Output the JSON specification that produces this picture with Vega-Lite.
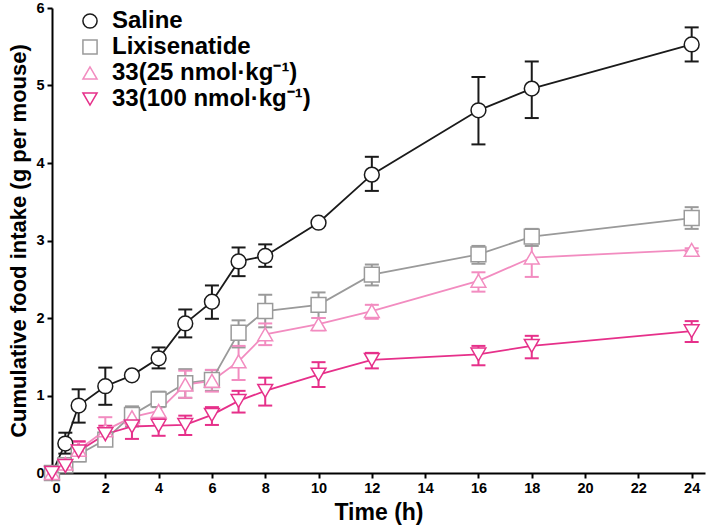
{
  "$schema": "https://vega.github.io/schema/vega-lite/v6.json",
  "width": 653,
  "height": 465,
  "autosize": {"type": "none"},
  "padding": {"left": 52, "top": 8, "right": 4, "bottom": 57},
  "background": "white",
  "config": {
    "view": {"stroke": null},
    "font": "Liberation Sans",
    "axis": {"grid": false, "domainColor": "black", "domainWidth": 2, "tickColor": "black", "tickWidth": 2, "tickSize": 5, "labelFontSize": 14.5, "labelFontWeight": "bold", "labelColor": "black", "titleFontWeight": "bold", "titleColor": "black"},
    "legend": {"labelLimit": 400, "symbolOpacity": 1}
  },
  "data": {"values": [
    {"g": "Saline", "t": 0, "m": 0, "lo": 0, "hi": 0},
    {"g": "Saline", "t": 0.5, "m": 0.38, "lo": 0.25, "hi": 0.52},
    {"g": "Saline", "t": 1, "m": 0.87, "lo": 0.65, "hi": 1.08},
    {"g": "Saline", "t": 2, "m": 1.12, "lo": 0.88, "hi": 1.36},
    {"g": "Saline", "t": 3, "m": 1.26, "lo": 1.24, "hi": 1.28},
    {"g": "Saline", "t": 4, "m": 1.48, "lo": 1.35, "hi": 1.62},
    {"g": "Saline", "t": 5, "m": 1.93, "lo": 1.75, "hi": 2.11},
    {"g": "Saline", "t": 6, "m": 2.21, "lo": 1.99, "hi": 2.42},
    {"g": "Saline", "t": 7, "m": 2.73, "lo": 2.54, "hi": 2.91},
    {"g": "Saline", "t": 8, "m": 2.8, "lo": 2.66, "hi": 2.95},
    {"g": "Saline", "t": 10, "m": 3.23, "lo": 3.21, "hi": 3.25},
    {"g": "Saline", "t": 12, "m": 3.85, "lo": 3.64, "hi": 4.08},
    {"g": "Saline", "t": 16, "m": 4.68, "lo": 4.24, "hi": 5.11},
    {"g": "Saline", "t": 18, "m": 4.96, "lo": 4.58, "hi": 5.31},
    {"g": "Saline", "t": 24, "m": 5.53, "lo": 5.31, "hi": 5.75},
    {"g": "Lixisenatide", "t": 0, "m": 0, "lo": 0, "hi": 0},
    {"g": "Lixisenatide", "t": 0.5, "m": 0.1, "lo": 0.05, "hi": 0.15},
    {"g": "Lixisenatide", "t": 1, "m": 0.24, "lo": 0.15, "hi": 0.32},
    {"g": "Lixisenatide", "t": 2, "m": 0.43, "lo": 0.35, "hi": 0.52},
    {"g": "Lixisenatide", "t": 3, "m": 0.75, "lo": 0.6, "hi": 0.86},
    {"g": "Lixisenatide", "t": 4, "m": 0.95, "lo": 0.85, "hi": 1.05},
    {"g": "Lixisenatide", "t": 5, "m": 1.16, "lo": 0.97, "hi": 1.34},
    {"g": "Lixisenatide", "t": 6, "m": 1.2, "lo": 1.06, "hi": 1.33},
    {"g": "Lixisenatide", "t": 7, "m": 1.81, "lo": 1.62, "hi": 1.97},
    {"g": "Lixisenatide", "t": 8, "m": 2.09, "lo": 1.88, "hi": 2.3},
    {"g": "Lixisenatide", "t": 10, "m": 2.17, "lo": 2.0, "hi": 2.33},
    {"g": "Lixisenatide", "t": 12, "m": 2.56, "lo": 2.42, "hi": 2.69},
    {"g": "Lixisenatide", "t": 16, "m": 2.82, "lo": 2.7, "hi": 2.93},
    {"g": "Lixisenatide", "t": 18, "m": 3.05, "lo": 2.93, "hi": 3.15},
    {"g": "Lixisenatide", "t": 24, "m": 3.29, "lo": 3.15, "hi": 3.43},
    {"g": "33(25 nmol·kg⁻¹)", "t": 0, "m": 0, "lo": 0, "hi": 0},
    {"g": "33(25 nmol·kg⁻¹)", "t": 0.5, "m": 0.12, "lo": 0.07, "hi": 0.17},
    {"g": "33(25 nmol·kg⁻¹)", "t": 1, "m": 0.3, "lo": 0.2, "hi": 0.4},
    {"g": "33(25 nmol·kg⁻¹)", "t": 2, "m": 0.55, "lo": 0.38, "hi": 0.72},
    {"g": "33(25 nmol·kg⁻¹)", "t": 3, "m": 0.72, "lo": 0.62, "hi": 0.82},
    {"g": "33(25 nmol·kg⁻¹)", "t": 4, "m": 0.8, "lo": 0.7, "hi": 0.9},
    {"g": "33(25 nmol·kg⁻¹)", "t": 5, "m": 1.14, "lo": 0.97, "hi": 1.32},
    {"g": "33(25 nmol·kg⁻¹)", "t": 6, "m": 1.19, "lo": 1.05, "hi": 1.33},
    {"g": "33(25 nmol·kg⁻¹)", "t": 7, "m": 1.44, "lo": 1.2, "hi": 1.64},
    {"g": "33(25 nmol·kg⁻¹)", "t": 8, "m": 1.79, "lo": 1.65, "hi": 1.93},
    {"g": "33(25 nmol·kg⁻¹)", "t": 10, "m": 1.92, "lo": 1.84, "hi": 2.0},
    {"g": "33(25 nmol·kg⁻¹)", "t": 12, "m": 2.09, "lo": 1.99, "hi": 2.17},
    {"g": "33(25 nmol·kg⁻¹)", "t": 16, "m": 2.48, "lo": 2.34, "hi": 2.59},
    {"g": "33(25 nmol·kg⁻¹)", "t": 18, "m": 2.78, "lo": 2.53, "hi": 3.03},
    {"g": "33(25 nmol·kg⁻¹)", "t": 24, "m": 2.88, "lo": 2.86, "hi": 2.9},
    {"g": "33(100 nmol·kg⁻¹)", "t": 0, "m": 0, "lo": 0, "hi": 0},
    {"g": "33(100 nmol·kg⁻¹)", "t": 0.5, "m": 0.09, "lo": 0.04, "hi": 0.14},
    {"g": "33(100 nmol·kg⁻¹)", "t": 1, "m": 0.28, "lo": 0.17, "hi": 0.41},
    {"g": "33(100 nmol·kg⁻¹)", "t": 2, "m": 0.5, "lo": 0.36, "hi": 0.61},
    {"g": "33(100 nmol·kg⁻¹)", "t": 3, "m": 0.6, "lo": 0.44, "hi": 0.71},
    {"g": "33(100 nmol·kg⁻¹)", "t": 4, "m": 0.61, "lo": 0.48, "hi": 0.72},
    {"g": "33(100 nmol·kg⁻¹)", "t": 5, "m": 0.62, "lo": 0.49, "hi": 0.74},
    {"g": "33(100 nmol·kg⁻¹)", "t": 6, "m": 0.75, "lo": 0.62, "hi": 0.85},
    {"g": "33(100 nmol·kg⁻¹)", "t": 7, "m": 0.93, "lo": 0.78, "hi": 1.06},
    {"g": "33(100 nmol·kg⁻¹)", "t": 8, "m": 1.06, "lo": 0.87, "hi": 1.23},
    {"g": "33(100 nmol·kg⁻¹)", "t": 10, "m": 1.27, "lo": 1.11, "hi": 1.43},
    {"g": "33(100 nmol·kg⁻¹)", "t": 12, "m": 1.46, "lo": 1.35, "hi": 1.55},
    {"g": "33(100 nmol·kg⁻¹)", "t": 16, "m": 1.53, "lo": 1.39, "hi": 1.64},
    {"g": "33(100 nmol·kg⁻¹)", "t": 18, "m": 1.64, "lo": 1.48, "hi": 1.77},
    {"g": "33(100 nmol·kg⁻¹)", "t": 24, "m": 1.83, "lo": 1.69, "hi": 1.96}
  ]},
  "encoding": {
    "x": {"field": "t", "type": "quantitative", "scale": {"domain": [0, 24.5], "nice": false, "zero": false}, "axis": {"values": [0,2,4,6,8,10,12,14,16,18,20,22,24], "title": "Time (h)", "titleFontSize": 23, "titlePadding": 7, "labelPadding": 3}},
    "color": {"field": "g", "type": "nominal", "scale": {"domain": ["Saline", "Lixisenatide", "33(25 nmol·kg⁻¹)", "33(100 nmol·kg⁻¹)"], "range": ["#1a1a1a", "#9a9a9a", "#f28cc0", "#e6308a"]},
      "legend": {"orient": "none", "legendX": 26, "legendY": 1, "title": null, "labelFontSize": 24, "labelFontWeight": "bold", "labelColor": "black", "labelLimit": 400, "symbolSize": 200, "symbolStrokeWidth": 1.5, "symbolFillColor": "white", "symbolOpacity": 1, "rowPadding": 2, "labelOffset": 10}}
  },
  "layer": [
    {
      "mark": {"type": "rule", "strokeWidth": 2},
      "encoding": {
        "y": {"field": "lo", "type": "quantitative", "scale": {"domain": [0, 6], "nice": false}, "axis": {"values": [0,1,2,3,4,5,6], "format": "d", "title": "Cumulative food intake (g per mouse)", "titleFontSize": 22, "titlePadding": 5, "labelPadding": 3}},
        "y2": {"field": "hi"}
      }
    },
    {
      "mark": {"type": "point", "shape": "stroke", "filled": false, "size": 196, "strokeWidth": 2, "opacity": 1},
      "encoding": {"y": {"field": "lo", "type": "quantitative"}}
    },
    {
      "mark": {"type": "point", "shape": "stroke", "filled": false, "size": 196, "strokeWidth": 2, "opacity": 1},
      "encoding": {"y": {"field": "hi", "type": "quantitative"}}
    },
    {
      "mark": {"type": "line", "strokeWidth": 1.8},
      "encoding": {
        "y": {"field": "m", "type": "quantitative"}
      }
    },
    {
      "mark": {"type": "point", "filled": false, "fill": "white", "fillOpacity": 1, "strokeWidth": 1.5, "size": 220, "opacity": 1},
      "encoding": {
        "y": {"field": "m", "type": "quantitative"},
        "shape": {"field": "g", "type": "nominal", "scale": {"domain": ["Saline", "Lixisenatide", "33(25 nmol·kg⁻¹)", "33(100 nmol·kg⁻¹)"], "range": ["circle", "square", "triangle-up", "triangle-down"]},
          "legend": {"orient": "none", "legendX": 26, "legendY": 1, "title": null, "labelFontSize": 24, "labelFontWeight": "bold", "labelColor": "black", "labelLimit": 400, "symbolSize": 200, "symbolStrokeWidth": 1.5, "symbolFillColor": "white", "symbolOpacity": 1, "rowPadding": 2, "labelOffset": 10}
        }
      }
    }
  ]
}
